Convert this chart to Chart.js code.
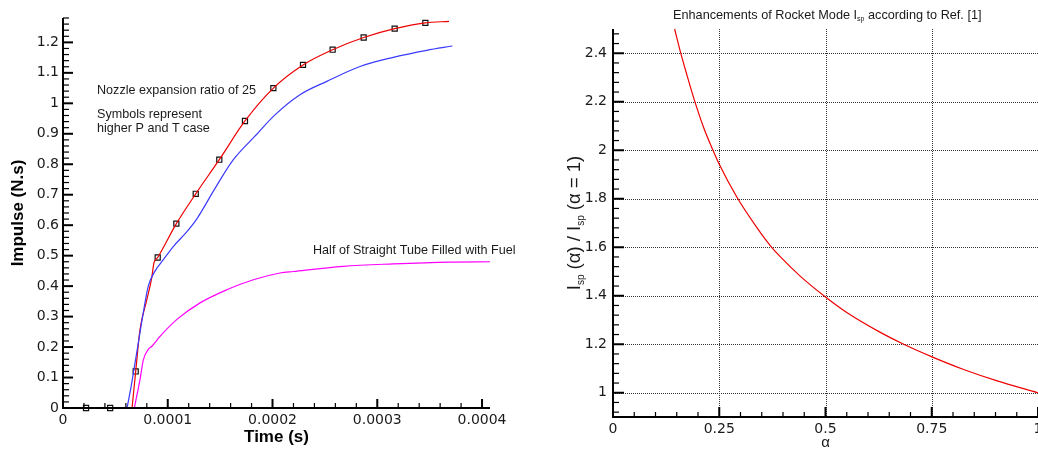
<!DOCTYPE html>
<html>
<head>
<meta charset="utf-8">
<script src="https://cdn.jsdelivr.net/npm/chart.js@4.4.1/dist/chart.umd.min.js"></script>
<style>
html,body{margin:0;padding:0;background:#fff;overflow:hidden}
#wrap{position:relative;width:1038px;height:454px;background:#fff}
canvas{position:absolute;top:0}
</style>
</head>
<body>
<div id="wrap">
<canvas id="c1" width="540" height="454" style="left:0px"></canvas>
<canvas id="c2" width="498" height="454" style="left:540px"></canvas>
</div>
<script>
// ---------------- Left chart data (time in seconds, impulse in N.s) ----------------
const redTime    = [6.59e-5, 6.94e-5, 7.35e-5, 8.0e-5, 8.47e-5, 8.68e-5, 9.04e-5, 1.082e-4, 1.267e-4, 1.492e-4, 1.737e-4, 2.008e-4, 2.291e-4, 2.574e-4, 2.870e-4, 3.166e-4, 3.459e-4, 3.685e-4];
const redImpulse = [0,       0.12,    0.257,   0.355,  0.427,   0.476,   0.494,   0.605,    0.703,    0.815,    0.942,    1.050,    1.126,    1.176,    1.216,    1.245,    1.264,    1.269];

const blueTime    = [6.11e-5, 6.5e-5, 7.03e-5, 7.6e-5, 8.14e-5, 8.8e-5, 9.58e-5, 1.053e-4, 1.181e-4, 1.276e-4, 1.45e-4, 1.626e-4, 1.86e-4, 2.008e-4, 2.262e-4, 2.518e-4, 2.835e-4, 3.153e-4, 3.472e-4, 3.717e-4];
const blueImpulse = [0,       0.07,   0.18,    0.30,   0.40,    0.45,   0.487,   0.53,     0.578,    0.620,    0.72,    0.815,    0.902,   0.957,    1.028,    1.072,    1.121,    1.151,    1.174,    1.188];

const magTime    = [6.81e-5, 7.35e-5, 7.67e-5, 8.2e-5, 8.47e-5, 9.26e-5, 1.085e-4, 1.308e-4, 1.563e-4, 1.817e-4, 2.072e-4, 2.199e-4, 2.676e-4, 3.153e-4, 3.695e-4, 4.076e-4];
const magImpulse = [0,       0.093,   0.158,   0.195,  0.202,   0.235,   0.29,     0.345,    0.388,    0.421,    0.443,    0.448,    0.465,    0.473,    0.479,    0.48];

const symTime    = [2.2e-5, 4.5e-5, 6.94e-5, 9.04e-5, 1.082e-4, 1.267e-4, 1.492e-4, 1.737e-4, 2.008e-4, 2.291e-4, 2.574e-4, 2.870e-4, 3.166e-4, 3.459e-4];
const symImpulse = [0,      0,      0.12,    0.494,   0.605,    0.703,    0.815,    0.942,    1.050,    1.126,    1.176,    1.216,    1.245,    1.264];

const leftXTicks  = [0, 1e-4, 2e-4, 3e-4, 4e-4];
const leftXLabels = ['0', '0.0001', '0.0002', '0.0003', '0.0004'];
const leftXMinor  = [2e-5,4e-5,6e-5,8e-5,1.2e-4,1.4e-4,1.6e-4,1.8e-4,2.2e-4,2.4e-4,2.6e-4,2.8e-4,3.2e-4,3.4e-4,3.6e-4,3.8e-4];
const leftYTicks  = [0,0.1,0.2,0.3,0.4,0.5,0.6,0.7,0.8,0.9,1,1.1,1.2];
const leftYLabels = ['0','0.1','0.2','0.3','0.4','0.5','0.6','0.7','0.8','0.9','1','1.1','1.2'];
const leftYMinor  = [0.02,0.04,0.06,0.08,0.12,0.14,0.16,0.18,0.22,0.24,0.26,0.28,0.32,0.34,0.36,0.38,0.42,0.44,0.46,0.48,0.52,0.54,0.56,0.58,0.62,0.64,0.66,0.68,0.72,0.74,0.76,0.78,0.82,0.84,0.86,0.88,0.92,0.94,0.96,0.98,1.02,1.04,1.06,1.08,1.12,1.14,1.16,1.18,1.22,1.24,1.26,1.28];

// ---------------- Right chart data ----------------
const alphaVals = [0.145, 0.158, 0.174, 0.190, 0.213, 0.234, 0.25,  0.292, 0.339, 0.370, 0.394, 0.441, 0.5,   0.551, 0.629, 0.684, 0.752, 0.825, 0.904, 1.0];
const ispRatio  = [2.5,   2.41,  2.31,  2.215, 2.095, 2.005, 1.942, 1.805, 1.68,  1.607, 1.56,  1.48,  1.395, 1.33,  1.249, 1.2,   1.147, 1.096, 1.049, 1.0];

const rightXTicks  = [0, 0.25, 0.5, 0.75, 1];
const rightXLabels = ['0', '0.25', '0.5', '0.75', '1'];
const rightXMinor  = [0.05,0.1,0.15,0.2,0.3,0.35,0.4,0.45,0.55,0.6,0.65,0.7,0.8,0.85,0.9,0.95];
const rightXGrid   = [0.25, 0.5, 0.75];
const rightYTicks  = [1, 1.2, 1.4, 1.6, 1.8, 2, 2.2, 2.4];
const rightYLabels = ['1','1.2','1.4','1.6','1.8','2','2.2','2.4'];
const rightYMinor  = [0.92,0.96,1.04,1.08,1.12,1.16,1.24,1.28,1.32,1.36,1.44,1.48,1.52,1.56,1.64,1.68,1.72,1.76,1.84,1.88,1.92,1.96,2.04,2.08,2.12,2.16,2.24,2.28,2.32,2.36,2.44,2.48];

const pairs = (xs, ys) => xs.map((v, i) => ({x: v, y: ys[i]}));

Chart.defaults.font.family = "'DejaVu Sans', sans-serif";
Chart.defaults.color = '#1a1a1a';

function line(ctx, x1, y1, x2, y2) { ctx.beginPath(); ctx.moveTo(x1, y1); ctx.lineTo(x2, y2); ctx.stroke(); }

function decoPlugin(o) {
  return {
    id: 'deco',
    beforeDatasetsDraw(chart) {
      if (!o.grid) return;
      const {ctx, chartArea: a, scales: {x, y}} = chart;
      ctx.save();
      ctx.strokeStyle = '#333'; ctx.lineWidth = 1; ctx.setLineDash([1, 1]);
      o.xGrid.forEach(v => { const p = Math.round(x.getPixelForValue(v)) + 0.5; line(ctx, p, a.top, p, a.bottom); });
      o.yGrid.forEach(v => { const p = Math.round(y.getPixelForValue(v)) + 0.5; line(ctx, a.left, p, a.right, p); });
      ctx.restore();
    },
    afterDatasetsDraw(chart) {
      const {ctx, chartArea: a, scales: {x, y}} = chart;
      ctx.save();
      ctx.strokeStyle = '#000';
      ctx.lineWidth = 2;
      o.xMajor.forEach(v => { const p = x.getPixelForValue(v); line(ctx, p, a.bottom, p, a.bottom - o.xMajLen); });
      o.yMajor.forEach(v => { const p = y.getPixelForValue(v); line(ctx, a.left, p, a.left + o.yMajLen, p); });
      ctx.lineWidth = 1.2;
      o.xMinor.forEach(v => { const p = x.getPixelForValue(v); line(ctx, p, a.bottom, p, a.bottom - o.xMinLen); });
      o.yMinor.forEach(v => { const p = y.getPixelForValue(v); line(ctx, a.left, p, a.left + o.yMinLen, p); });
      ctx.lineWidth = 2;
      line(ctx, a.left, a.top, a.left, a.bottom + 1);
      line(ctx, a.left - 1, a.bottom, a.right, a.bottom);
      ctx.restore();
    },
    afterDraw(chart) { if (o.text) o.text(chart.ctx, chart); }
  };
}

function baseScale(min, max, ticks, labels, size, pad, fit) {
  return {
    type: 'linear', min, max,
    afterBuildTicks: s => { s.ticks = ticks.map(v => ({value: v})); },
    ticks: {callback: (v, i) => labels[i], padding: pad, font: {size}, color: '#1a1a1a', maxRotation: 0, autoSkip: false},
    grid: {display: false, drawTicks: false},
    border: {display: false},
    afterFit: fit
  };
}

// ---------------- Left chart ----------------
new Chart(document.getElementById('c1'), {
  type: 'line',
  data: {
    datasets: [
      {data: pairs(magTime, magImpulse), borderColor: '#ff00ff', borderWidth: 1.2, pointRadius: 0, cubicInterpolationMode: 'monotone', clip: false},
      {data: pairs(blueTime, blueImpulse), borderColor: '#3a3aff', borderWidth: 1.2, pointRadius: 0, cubicInterpolationMode: 'monotone', clip: false},
      {data: pairs(redTime, redImpulse), borderColor: '#ee0000', borderWidth: 1.2, pointRadius: 0, cubicInterpolationMode: 'monotone', clip: false},
      {data: pairs(symTime, symImpulse), showLine: false, pointStyle: 'rect', pointRadius: 3.6, borderColor: '#111', borderWidth: 1.2, backgroundColor: 'rgba(255,255,255,0)', clip: false}
    ]
  },
  options: {
    responsive: false, devicePixelRatio: 1, animation: false,
    layout: {padding: {left: 0, top: 18, right: 50, bottom: 0}, autoPadding: false},
    plugins: {legend: {display: false}, tooltip: {enabled: false}},
    scales: {
      x: Object.assign(baseScale(0, 4.076e-4, leftXTicks, leftXLabels, 14, 4, s => { s.height = 46; s.paddingLeft = 0; s.paddingRight = 0; }), {position: 'bottom'}),
      y: Object.assign(baseScale(0, 1.28, leftYTicks, leftYLabels, 14, 4, s => { s.width = 63; s.paddingTop = 0; s.paddingBottom = 0; }), {position: 'left'})
    }
  },
  plugins: [decoPlugin({
    grid: false, xMajor: leftXTicks.slice(1), yMajor: leftYTicks.slice(1), xMinor: leftXMinor, yMinor: leftYMinor,
    xMajLen: 9, xMinLen: 5, yMajLen: 10, yMinLen: 6,
    text(ctx, chart) {
      const a = chart.chartArea;
      ctx.save();
      ctx.fillStyle = '#1a1a1a';
      ctx.font = "12.6px 'Liberation Sans', Arial, sans-serif";
      ctx.textBaseline = 'alphabetic';
      ctx.fillText('Nozzle expansion ratio of 25', 97, 94);
      ctx.fillText('Symbols represent', 97, 117.5);
      ctx.fillText('higher P and T case', 97, 131.5);
      ctx.fillText('Half of Straight Tube Filled with Fuel', 313, 254);
      ctx.fillStyle = '#000';
      ctx.font = "bold 17px 'Liberation Sans', Arial, sans-serif";
      ctx.textAlign = 'center'; ctx.textBaseline = 'middle';
      ctx.fillText('Time (s)', (a.left + a.right) / 2, 437);
      ctx.translate(18, (a.top + a.bottom) / 2);
      ctx.rotate(-Math.PI / 2);
      ctx.fillText('Impulse (N.s)', 0, 0);
      ctx.restore();
    }
  })]
});

// ---------------- Right chart ----------------
function richWidth(ctx, parts) { let w = 0; parts.forEach(p => { ctx.font = p[1]; w += ctx.measureText(p[0]).width; }); return w; }
function drawRich(ctx, parts, x, y) { let cx = x; parts.forEach(p => { ctx.font = p[1]; ctx.fillText(p[0], cx, y + p[2]); cx += ctx.measureText(p[0]).width; }); }

new Chart(document.getElementById('c2'), {
  type: 'line',
  data: {
    datasets: [
      {data: pairs(alphaVals, ispRatio), borderColor: '#ee0000', borderWidth: 1.2, pointRadius: 0, cubicInterpolationMode: 'monotone', clip: false}
    ]
  },
  options: {
    responsive: false, devicePixelRatio: 1, animation: false,
    layout: {padding: {left: 0, top: 29, right: 0, bottom: 0}, autoPadding: false},
    plugins: {legend: {display: false}, tooltip: {enabled: false}},
    scales: {
      x: Object.assign(baseScale(0, 1, rightXTicks, rightXLabels, 14, 4, s => { s.height = 37; s.paddingLeft = 0; s.paddingRight = 0; }), {position: 'bottom'}),
      y: Object.assign(baseScale(0.9, 2.5, rightYTicks, rightYLabels, 14, 6, s => { s.width = 73; s.paddingTop = 0; s.paddingBottom = 0; }), {position: 'left'})
    }
  },
  plugins: [decoPlugin({
    grid: true, xGrid: rightXGrid, yGrid: rightYTicks,
    xMajor: rightXTicks.slice(1), yMajor: rightYTicks, xMinor: rightXMinor, yMinor: rightYMinor,
    xMajLen: 10, xMinLen: 5, yMajLen: 11, yMinLen: 6,
    text(ctx, chart) {
      const a = chart.chartArea;
      ctx.save();
      ctx.fillStyle = '#1a1a1a';
      ctx.textBaseline = 'alphabetic';
      const tf = "12.7px 'Liberation Sans', Arial, sans-serif", ts = "7px 'Liberation Sans', Arial, sans-serif";
      drawRich(ctx, [['Enhancements of Rocket Mode ', tf, 0], ['I', tf, 0], ['sp', ts, 2], [' according to Ref. [1]', tf, 0]], 133, 18.5);
      const mf = "18.5px 'Liberation Sans', Arial, sans-serif", sf = "10px 'Liberation Sans', Arial, sans-serif";
      const yparts = [['I', mf, 0], ['sp', sf, 4], [' (α) / ', mf, 0], ['I', mf, 0], ['sp', sf, 4], [' (α = 1)', mf, 0]];
      const w = richWidth(ctx, yparts);
      ctx.save();
      ctx.translate(40, (a.top + a.bottom) / 2);
      ctx.rotate(-Math.PI / 2);
      drawRich(ctx, yparts, -w / 2, 0);
      ctx.restore();
      ctx.font = "15px 'Liberation Sans', Arial, sans-serif";
      ctx.textAlign = 'center'; ctx.textBaseline = 'middle';
      ctx.fillText('α', (a.left + a.right) / 2, 443);
      ctx.restore();
    }
  })]
});
</script>
</body>
</html>
